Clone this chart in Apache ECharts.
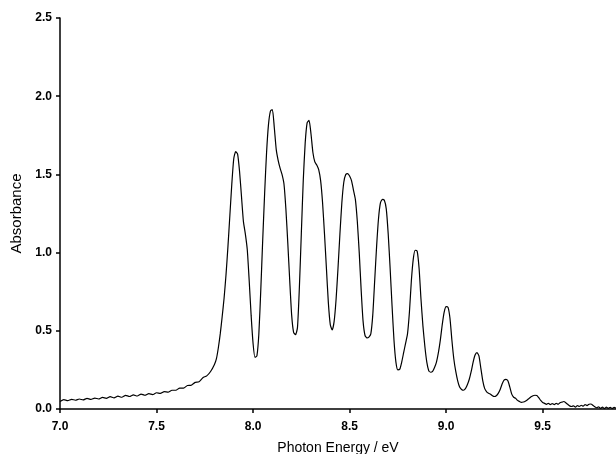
<!DOCTYPE html>
<html>
<head>
<meta charset="utf-8">
<script src="https://cdn.jsdelivr.net/npm/echarts@6/dist/echarts.min.js"></script>
<style>html,body{margin:0;padding:0;background:#fff}#c{width:616px;height:454px}</style>
</head>
<body>
<div id="c"></div>
<script>
const energy = [7.00,7.02,7.04,7.06,7.08,7.10,7.12,7.14,7.16,7.18,7.20,7.22,7.24,7.26,7.28,7.30,7.32,7.34,7.36,7.38,7.40,7.42,7.44,7.46,7.48,7.50,7.52,7.54,7.56,7.58,7.60,7.62,7.64,7.66,7.68,7.70,7.72,7.74,7.76,7.78,7.80,7.81,7.82,7.83,7.84,7.85,7.86,7.87,7.88,7.89,7.90,7.91,7.92,7.93,7.94,7.95,7.96,7.97,7.98,7.99,8.00,8.01,8.02,8.03,8.04,8.05,8.06,8.07,8.08,8.09,8.10,8.11,8.12,8.13,8.14,8.15,8.16,8.17,8.18,8.19,8.20,8.21,8.22,8.23,8.24,8.25,8.26,8.27,8.28,8.29,8.30,8.31,8.32,8.33,8.34,8.35,8.36,8.37,8.38,8.39,8.40,8.41,8.42,8.43,8.44,8.45,8.46,8.47,8.48,8.49,8.50,8.51,8.52,8.53,8.54,8.55,8.56,8.57,8.58,8.59,8.60,8.61,8.62,8.63,8.64,8.65,8.66,8.67,8.68,8.69,8.70,8.71,8.72,8.73,8.74,8.75,8.76,8.77,8.78,8.79,8.80,8.81,8.82,8.83,8.84,8.85,8.86,8.87,8.88,8.89,8.90,8.91,8.92,8.93,8.94,8.95,8.96,8.97,8.98,8.99,9.00,9.01,9.02,9.03,9.04,9.05,9.06,9.07,9.08,9.09,9.10,9.11,9.12,9.13,9.14,9.15,9.16,9.17,9.18,9.19,9.20,9.21,9.22,9.23,9.24,9.25,9.26,9.27,9.28,9.29,9.30,9.31,9.32,9.33,9.34,9.35,9.36,9.37,9.38,9.39,9.40,9.41,9.42,9.43,9.44,9.45,9.46,9.47,9.48,9.49,9.50,9.51,9.52,9.53,9.54,9.55,9.56,9.57,9.58,9.59,9.60,9.61,9.62,9.63,9.64,9.65,9.66,9.67,9.68,9.69,9.70,9.71,9.72,9.73,9.74,9.75,9.76,9.77,9.78,9.79,9.80,9.81,9.82,9.83,9.84,9.85,9.86,9.87,9.88];
const absorbance = [0.048,0.060,0.053,0.062,0.056,0.064,0.058,0.068,0.061,0.070,0.064,0.074,0.068,0.079,0.071,0.082,0.075,0.087,0.080,0.090,0.083,0.095,0.088,0.098,0.092,0.104,0.100,0.111,0.108,0.120,0.120,0.134,0.134,0.150,0.152,0.170,0.174,0.200,0.212,0.240,0.285,0.320,0.390,0.480,0.590,0.710,0.860,1.040,1.240,1.440,1.600,1.645,1.630,1.520,1.360,1.200,1.120,1.020,0.820,0.600,0.420,0.330,0.340,0.480,0.760,1.080,1.380,1.640,1.820,1.905,1.915,1.800,1.660,1.590,1.540,1.500,1.440,1.280,1.060,0.820,0.600,0.490,0.475,0.520,0.780,1.120,1.460,1.700,1.830,1.845,1.760,1.640,1.580,1.560,1.530,1.460,1.320,1.120,0.900,0.680,0.540,0.505,0.560,0.700,0.900,1.120,1.320,1.450,1.500,1.505,1.490,1.460,1.400,1.340,1.200,1.000,0.760,0.560,0.470,0.455,0.460,0.480,0.600,0.820,1.040,1.220,1.320,1.340,1.335,1.280,1.120,0.900,0.660,0.440,0.300,0.250,0.255,0.300,0.360,0.420,0.480,0.620,0.820,0.960,1.015,1.010,0.900,0.700,0.530,0.400,0.300,0.245,0.235,0.240,0.265,0.300,0.360,0.440,0.540,0.620,0.655,0.650,0.580,0.440,0.320,0.240,0.180,0.140,0.125,0.120,0.130,0.155,0.190,0.240,0.300,0.345,0.360,0.340,0.260,0.180,0.130,0.110,0.100,0.095,0.085,0.080,0.085,0.100,0.125,0.160,0.185,0.190,0.180,0.140,0.095,0.075,0.068,0.055,0.048,0.042,0.045,0.050,0.058,0.068,0.078,0.085,0.088,0.086,0.072,0.055,0.042,0.036,0.030,0.036,0.028,0.035,0.028,0.036,0.030,0.040,0.044,0.048,0.040,0.030,0.020,0.016,0.020,0.012,0.022,0.016,0.024,0.018,0.028,0.022,0.030,0.032,0.024,0.014,0.008,0.014,0.004,0.012,0.003,0.012,0.004,0.011,0.003,0.010,0.005];
const xTicks = [7.0,7.5,8.0,8.5,9.0,9.5];
const yTicks = [0.0,0.5,1.0,1.5,2.0,2.5];

const chart = echarts.init(document.getElementById('c'), null, {renderer:'canvas'});
const fontFam = 'Liberation Sans, Arial, sans-serif';
chart.setOption({
  animation:false,
  backgroundColor:'#fff',
  grid:{left:60,right:0,top:18,bottom:45,containLabel:false,outerBoundsMode:'none'},
  xAxis:{
    type:'value', min:xTicks[0], max:9.88, interval:0.5,
    name:'Photon Energy / eV', nameLocation:'middle', nameGap:32,
    nameTextStyle:{color:'#000',fontSize:14,fontFamily:fontFam},
    axisLine:{lineStyle:{color:'#000',width:1.5}},
    axisTick:{show:true,length:4,inside:false,lineStyle:{color:'#000',width:1.5}},
    axisLabel:{color:'#000',fontSize:12,fontWeight:'bold',fontFamily:fontFam,margin:12,showMaxLabel:false,
      formatter:v=>v.toFixed(1)},
    splitLine:{show:false}
  },
  yAxis:{
    type:'value', min:yTicks[0], max:yTicks[yTicks.length-1], interval:0.5,
    name:'Absorbance', nameLocation:'middle', nameGap:34, nameRotate:90,
    nameTextStyle:{color:'#000',fontSize:15,fontFamily:fontFam},
    axisLine:{show:true,lineStyle:{color:'#000',width:1.5}},
    axisTick:{show:true,length:4,inside:false,lineStyle:{color:'#000',width:1.5}},
    axisLabel:{color:'#000',fontSize:12,fontWeight:'bold',fontFamily:fontFam,margin:8,
      formatter:v=>v.toFixed(1)},
    splitLine:{show:false}
  },
  series:[{
    type:'line', data:energy.map((e,i)=>[e,absorbance[i]]),
    showSymbol:false, smooth:0.2,
    lineStyle:{color:'#000',width:1.2},
    clip:true
  }]
});
</script>
</body>
</html>
